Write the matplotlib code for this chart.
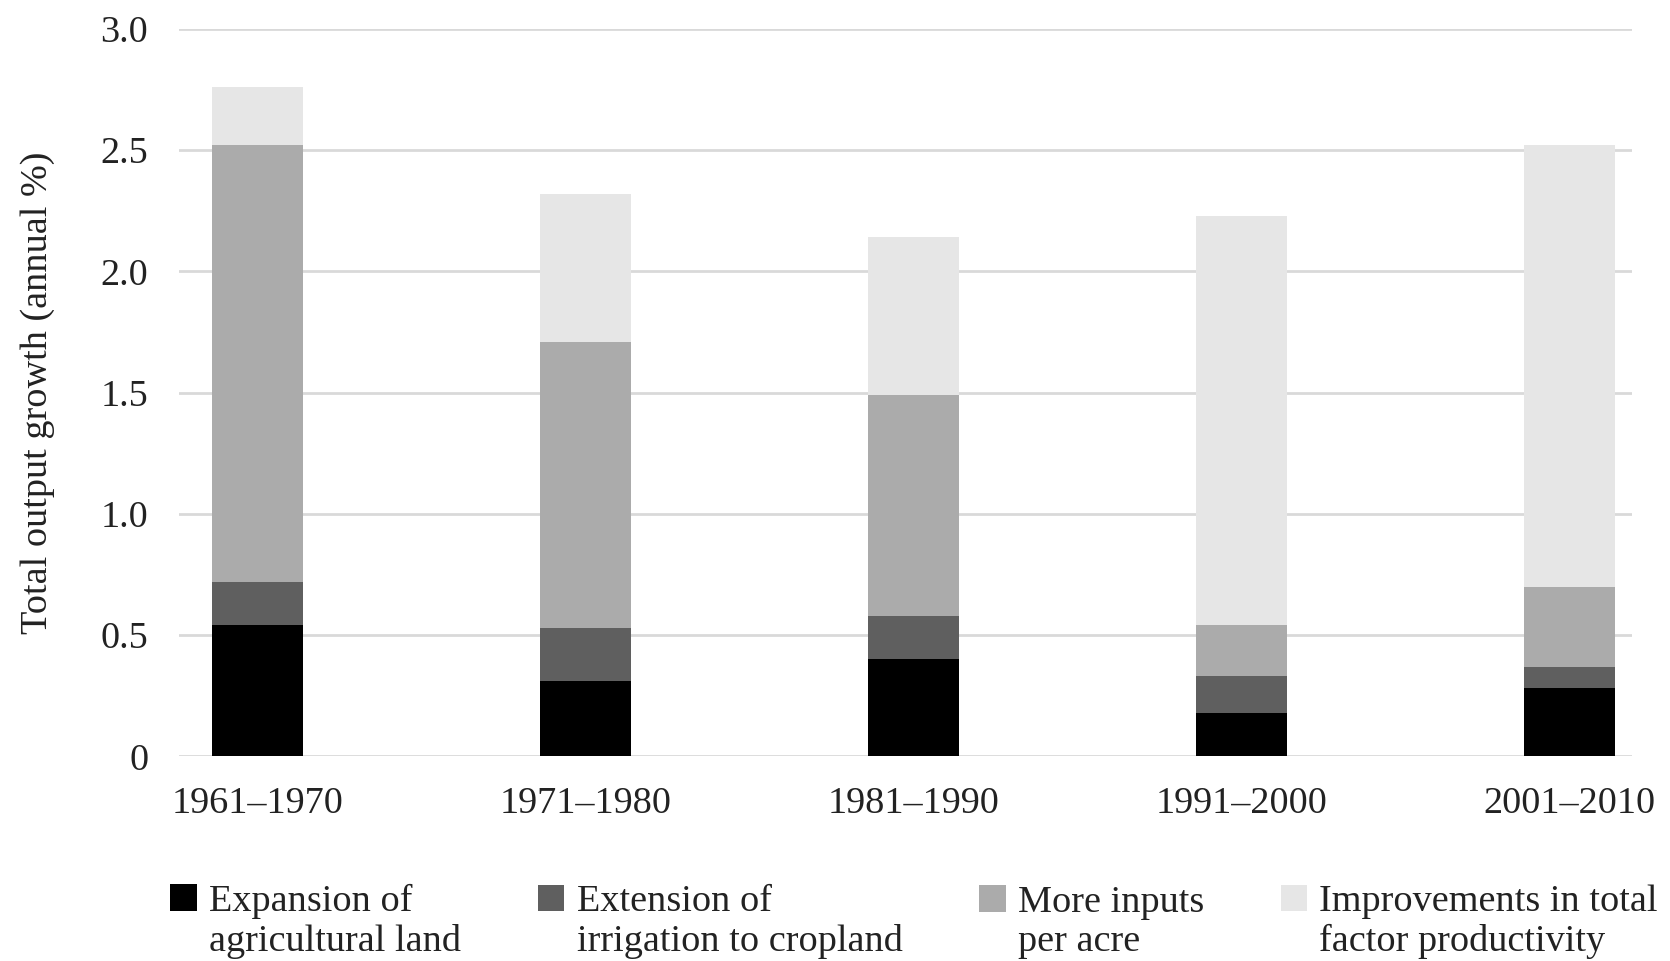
import matplotlib

matplotlib.use("Agg")
import matplotlib.pyplot as plt
import numpy as np

periods = ["1961\u20131970", "1971\u20131980", "1981\u20131990", "1991\u20132000", "2001\u20132010"]
series_labels = [
    "Expansion of\nagricultural land",
    "Extension of\nirrigation to cropland",
    "More inputs\nper acre",
    "Improvements in total\nfactor productivity",
]
land = [0.54, 0.31, 0.40, 0.18, 0.28]
irrigation = [0.18, 0.22, 0.18, 0.15, 0.09]
inputs = [1.80, 1.18, 0.91, 0.21, 0.33]
tfp = [0.24, 0.61, 0.65, 1.69, 1.82]
colors = ["#000000", "#5f5f5f", "#ababab", "#e6e6e6"]
y_ticks = [0, 0.5, 1.0, 1.5, 2.0, 2.5, 3.0]

plt.rcParams["font.family"] = ["Liberation Serif", "DejaVu Serif"]
FS = 27.5

fig = plt.figure(figsize=(16.7, 9.61), dpi=100)
ax = fig.add_axes([0.107, 0.213, 0.870, 0.757])

x = np.arange(len(periods))
bottom = np.zeros(len(periods))
handles = []
for values, color, label in zip([land, irrigation, inputs, tfp], colors, series_labels):
    bars = ax.bar(x, values, width=0.276, bottom=bottom, color=color, label=label, zorder=2)
    handles.append(bars)
    bottom += np.array(values)

ax.set_xlim(-0.24, 4.19)
ax.set_ylim(0, 3.0)
ax.set_yticks(y_ticks)
ax.set_yticklabels(["0" if v == 0 else f"{v:.1f}" for v in y_ticks], fontsize=FS, color="#222222")
ax.set_xticks(x)
ax.set_xticklabels(periods, fontsize=FS, color="#222222")
ax.tick_params(axis="both", length=0)
ax.tick_params(axis="y", pad=22)
ax.tick_params(axis="x", pad=22)
ax.yaxis.grid(True, color="#d9d9d9", linewidth=2, zorder=0)
ax.set_axisbelow(True)
for spine in ax.spines.values():
    spine.set_visible(False)
ax.set_ylabel("Total output growth (annual %)", fontsize=FS, color="#222222", labelpad=33)

leg = fig.legend(
    handles=handles,
    labels=series_labels,
    loc="upper left",
    bbox_to_anchor=(0.102, 0.080),
    ncol=4,
    frameon=False,
    fontsize=FS,
    handlelength=0.7,
    handleheight=0.7,
    handletextpad=0.32,
    columnspacing=2.0,
    borderpad=0,
    borderaxespad=0,
)
for text in leg.get_texts():
    text.set_linespacing(1.17)
    text.set_color("#222222")
for column in leg._legend_handle_box.get_children():
    for item in column.get_children():
        item.align = "top"

fig.savefig("out.png", dpi=100)
